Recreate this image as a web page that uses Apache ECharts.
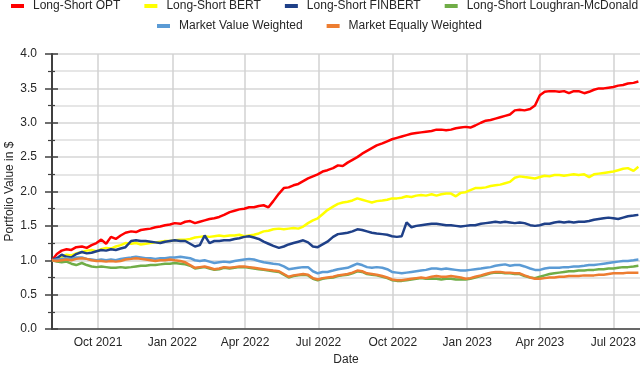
<!DOCTYPE html>
<html>
<head>
<meta charset="utf-8">
<script src="https://cdn.jsdelivr.net/npm/echarts@6/dist/echarts.min.js"></script>
<style>html,body{margin:0;padding:0;background:#fff;}#c{width:640px;height:371px;}</style>
</head>
<body>
<div id="c"></div>
<script>
const dates = ['2021-08-05','2021-08-11','2021-08-17','2021-08-23','2021-08-29','2021-09-04','2021-09-11','2021-09-17','2021-09-23','2021-09-29',
'2021-10-05','2021-10-11','2021-10-17','2021-10-23','2021-10-29','2021-11-04','2021-11-11','2021-11-17','2021-11-23','2021-11-29',
'2021-12-05','2021-12-11','2021-12-17','2021-12-23','2021-12-29','2022-01-04','2022-01-11','2022-01-17','2022-01-23','2022-01-29',
'2022-02-04','2022-02-10','2022-02-16','2022-02-22','2022-02-28','2022-03-06','2022-03-13','2022-03-19','2022-03-25','2022-03-31',
'2022-04-06','2022-04-12','2022-04-18','2022-04-24','2022-04-30','2022-05-06','2022-05-13','2022-05-19','2022-05-25','2022-05-31',
'2022-06-06','2022-06-12','2022-06-18','2022-06-24','2022-06-30','2022-07-06','2022-07-12','2022-07-19','2022-07-25','2022-07-31',
'2022-08-06','2022-08-12','2022-08-18','2022-08-24','2022-08-30','2022-09-05','2022-09-11','2022-09-18','2022-09-24','2022-09-30',
'2022-10-06','2022-10-12','2022-10-18','2022-10-24','2022-10-30','2022-11-05','2022-11-11','2022-11-18','2022-11-24','2022-11-30',
'2022-12-06','2022-12-12','2022-12-18','2022-12-24','2022-12-30','2023-01-05','2023-01-11','2023-01-18','2023-01-24','2023-01-30',
'2023-02-05','2023-02-11','2023-02-17','2023-02-23','2023-03-01','2023-03-07','2023-03-13','2023-03-20','2023-03-26','2023-04-01',
'2023-04-07','2023-04-13','2023-04-19','2023-04-25','2023-05-01','2023-05-07','2023-05-13','2023-05-19','2023-05-26','2023-06-01',
'2023-06-07','2023-06-13','2023-06-19','2023-06-25','2023-07-01','2023-07-07','2023-07-13','2023-07-19','2023-07-26','2023-08-01'];

const longShortOPT = [1.00,1.09,1.14,1.16,1.15,1.19,1.20,1.18,1.22,1.25, 1.30,1.24,1.34,1.31,1.36,1.40,1.42,1.41,1.44,1.45,
1.46,1.48,1.49,1.51,1.52,1.54,1.53,1.56,1.57,1.54, 1.56,1.58,1.60,1.61,1.63,1.66,1.70,1.72,1.74,1.75,
1.77,1.77,1.79,1.80,1.77,1.86,1.97,2.05,2.06,2.09, 2.11,2.15,2.19,2.22,2.25,2.29,2.31,2.34,2.38,2.37,
2.42,2.46,2.50,2.55,2.59,2.63,2.67,2.70,2.73,2.76, 2.78,2.80,2.82,2.84,2.85,2.86,2.87,2.88,2.90,2.90,
2.89,2.90,2.92,2.93,2.94,2.93,2.96,3.00,3.03,3.04, 3.06,3.08,3.10,3.12,3.18,3.19,3.18,3.20,3.25,3.40,
3.45,3.46,3.46,3.45,3.46,3.43,3.46,3.46,3.43,3.45, 3.48,3.50,3.50,3.51,3.52,3.54,3.55,3.57,3.58,3.60];

const longShortBERT = [1.00,1.02,1.05,1.08,1.07,1.10,1.12,1.14,1.15,1.13, 1.16,1.18,1.17,1.20,1.22,1.25,1.24,1.25,1.23,1.24,
1.25,1.26,1.27,1.28,1.28,1.29,1.30,1.30,1.31,1.33, 1.34,1.35,1.34,1.35,1.36,1.35,1.36,1.36,1.37,1.35,
1.36,1.37,1.39,1.42,1.43,1.45,1.46,1.45,1.46,1.47, 1.46,1.49,1.54,1.58,1.61,1.67,1.73,1.78,1.82,1.84,
1.85,1.87,1.90,1.88,1.86,1.84,1.86,1.87,1.88,1.90, 1.90,1.91,1.93,1.92,1.94,1.95,1.94,1.96,1.94,1.96,
1.97,1.97,1.93,1.98,1.99,2.02,2.05,2.05,2.06,2.08, 2.09,2.10,2.12,2.14,2.20,2.22,2.21,2.20,2.19,2.21,
2.23,2.22,2.24,2.24,2.23,2.24,2.25,2.24,2.25,2.21, 2.25,2.26,2.27,2.28,2.29,2.31,2.33,2.34,2.30,2.36];

const longShortFINBERT = [1.00,1.03,1.08,1.05,1.04,1.09,1.12,1.10,1.11,1.13, 1.15,1.14,1.16,1.15,1.17,1.19,1.28,1.29,1.28,1.28,
1.27,1.26,1.25,1.27,1.28,1.29,1.28,1.28,1.24,1.20, 1.22,1.36,1.25,1.28,1.28,1.29,1.29,1.31,1.32,1.34,
1.35,1.33,1.31,1.27,1.24,1.21,1.18,1.20,1.23,1.25, 1.27,1.29,1.26,1.20,1.19,1.23,1.27,1.34,1.38,1.39,
1.40,1.42,1.45,1.44,1.42,1.40,1.39,1.38,1.37,1.35, 1.34,1.35,1.55,1.48,1.50,1.51,1.52,1.53,1.53,1.52,
1.51,1.51,1.50,1.49,1.50,1.51,1.51,1.53,1.54,1.55, 1.56,1.55,1.56,1.55,1.54,1.55,1.54,1.51,1.50,1.51,
1.53,1.53,1.55,1.56,1.55,1.56,1.55,1.56,1.56,1.57, 1.59,1.60,1.61,1.62,1.61,1.60,1.62,1.64,1.65,1.66];

const longShortLM = [1.00,0.98,0.97,0.98,0.95,0.93,0.96,0.93,0.91,0.90, 0.91,0.90,0.89,0.89,0.90,0.89,0.90,0.91,0.92,0.92,
0.93,0.93,0.94,0.95,0.95,0.96,0.95,0.94,0.92,0.88, 0.89,0.90,0.88,0.86,0.87,0.89,0.88,0.89,0.90,0.90,
0.89,0.88,0.87,0.86,0.85,0.84,0.83,0.79,0.75,0.77, 0.78,0.79,0.78,0.73,0.71,0.73,0.74,0.75,0.77,0.78,
0.79,0.81,0.84,0.83,0.80,0.79,0.78,0.76,0.74,0.71, 0.70,0.70,0.71,0.72,0.73,0.74,0.73,0.73,0.73,0.72,
0.73,0.73,0.72,0.72,0.72,0.73,0.75,0.77,0.79,0.81, 0.82,0.82,0.81,0.81,0.80,0.80,0.77,0.75,0.74,0.76,
0.78,0.80,0.81,0.82,0.83,0.84,0.84,0.85,0.85,0.86, 0.86,0.87,0.87,0.88,0.88,0.89,0.90,0.90,0.91,0.92];

const marketValueWeighted = [1.00,1.01,1.02,1.03,1.02,1.04,1.04,1.02,1.01,1.00, 1.01,1.00,1.01,1.00,1.02,1.03,1.04,1.05,1.04,1.03,
1.03,1.02,1.03,1.03,1.04,1.04,1.05,1.04,1.03,1.00, 0.99,1.00,0.98,0.96,0.97,0.98,0.97,0.99,1.00,1.01,
1.02,1.01,0.99,0.97,0.96,0.95,0.94,0.91,0.87,0.88, 0.89,0.90,0.90,0.84,0.81,0.83,0.83,0.85,0.87,0.88,
0.89,0.92,0.95,0.93,0.90,0.89,0.90,0.89,0.87,0.83, 0.82,0.81,0.82,0.83,0.84,0.85,0.86,0.88,0.88,0.87,
0.88,0.87,0.86,0.85,0.85,0.86,0.87,0.88,0.89,0.90, 0.92,0.93,0.94,0.92,0.93,0.93,0.91,0.88,0.86,0.86,
0.88,0.89,0.89,0.89,0.90,0.90,0.91,0.91,0.92,0.93, 0.93,0.94,0.95,0.96,0.97,0.98,0.99,0.99,1.00,1.01];

const marketEquallyWeighted = [1.00,0.99,1.00,1.01,1.00,1.02,1.03,1.02,1.00,0.99, 0.99,0.98,0.99,0.98,0.99,1.01,1.02,1.03,1.02,1.01,
1.00,0.99,1.00,1.00,1.01,1.00,0.99,0.97,0.93,0.89, 0.90,0.91,0.89,0.87,0.88,0.90,0.89,0.90,0.91,0.91,
0.90,0.89,0.88,0.87,0.86,0.85,0.84,0.80,0.76,0.78, 0.79,0.80,0.79,0.74,0.72,0.74,0.75,0.76,0.78,0.79,
0.80,0.82,0.85,0.84,0.81,0.80,0.79,0.77,0.75,0.72, 0.71,0.71,0.72,0.73,0.74,0.75,0.74,0.76,0.77,0.76,
0.76,0.77,0.76,0.75,0.73,0.74,0.76,0.78,0.80,0.82, 0.83,0.83,0.82,0.82,0.81,0.81,0.78,0.75,0.73,0.73,
0.74,0.75,0.75,0.76,0.76,0.77,0.77,0.77,0.78,0.78, 0.78,0.79,0.79,0.80,0.81,0.81,0.81,0.82,0.82,0.82];

const seriesNames = ['Long-Short OPT','Long-Short BERT','Long-Short FINBERT','Long-Short Loughran-McDonald','Market Value Weighted','Market Equally Weighted'];
const seriesColors = ['#ff0000','#ffff00','#1f4088','#70ad47','#5b9bd5','#ed7d31'];
const seriesValues = [longShortOPT, longShortBERT, longShortFINBERT, longShortLM, marketValueWeighted, marketEquallyWeighted];

const quarterDates = ['2021-10-01','2022-01-01','2022-04-01','2022-07-01','2022-10-01','2023-01-01','2023-04-01','2023-07-01'];
const quarterLabels = ['Oct 2021','Jan 2022','Apr 2022','Jul 2022','Oct 2022','Jan 2023','Apr 2023','Jul 2023'];
const xRange = ['2021-08-05','2023-08-03'];
const yTicks = [0, 0.5, 1.0, 1.5, 2.0, 2.5, 3.0, 3.5, 4.0];

const toTime = s => echarts.number.parseDate(s).getTime();
const qTimes = quarterDates.map(toTime);
const FONT = "'Liberation Sans', Arial, sans-serif";
const TXT = '#262626';

const chart = echarts.init(document.getElementById('c'), null, {renderer: 'canvas'});

const series = seriesNames.map((n, i) => ({
  name: n,
  type: 'line',
  data: dates.map((d, j) => [toTime(d), seriesValues[i][j]]),
  showSymbol: false,
  symbol: 'none',
  color: seriesColors[i],
  lineStyle: {width: 2.5, color: seriesColors[i]},
  animation: false,
  z: 2 + i
}));

const legendBase = {
  orient: 'horizontal',
  icon: 'rect',
  itemWidth: 13,
  itemHeight: 4,
  itemGap: 24,
  padding: 0,
  textStyle: {fontFamily: FONT, fontSize: 12, color: TXT, padding: [0, 0, 0, 4]}
};

chart.setOption({
  backgroundColor: '#ffffff',
  animation: false,
  legend: [
    Object.assign({}, legendBase, {left: 11, top: 0, data: seriesNames.slice(0, 4)}),
    Object.assign({}, legendBase, {left: 157, top: 20, data: seriesNames.slice(4)})
  ],
  grid: {left: 52, right: 0, top: 54, bottom: 42, containLabel: false, outerBoundsMode: 'none'},
  xAxis: {
    type: 'value',
    min: toTime(xRange[0]),
    max: toTime(xRange[1]),
    name: 'Date',
    nameLocation: 'middle',
    nameGap: 25,
    nameMoveOverlap: false,
    nameTextStyle: {fontFamily: FONT, fontSize: 12, color: TXT},
    axisLine: {show: true, lineStyle: {color: '#404040', width: 1.5}},
    axisTick: {show: false, customValues: qTimes},
    axisLabel: {
      customValues: qTimes,
      margin: 8,
      fontFamily: FONT, fontSize: 12, color: TXT,
      formatter: function (v) {
        for (let i = 0; i < qTimes.length; i++) {
          if (Math.abs(qTimes[i] - v) < 3600000 * 13) return quarterLabels[i];
        }
        return '';
      }
    },
    splitLine: {show: true, lineStyle: {color: '#d2d2d2', width: 1.5}}
  },
  yAxis: [{
    type: 'value',
    min: 0, max: 4, interval: 0.5,
    name: 'Portfolio Value in $',
    nameLocation: 'middle',
    nameGap: 36,
    nameMoveOverlap: false,
    nameTextStyle: {fontFamily: FONT, fontSize: 12, color: TXT},
    axisLine: {show: true, lineStyle: {color: '#404040', width: 2}},
    axisTick: {show: true, inside: false, length: 7, lineStyle: {color: '#404040', width: 1.5}},
    minorTick: {show: true, splitNumber: 2, length: 4, lineStyle: {color: '#404040', width: 1.2}},
    axisLabel: {margin: 15, fontFamily: FONT, fontSize: 12, color: TXT,
      formatter: v => (yTicks.indexOf(v) >= 0 ? v.toFixed(1) : '')},
    splitLine: {show: true, lineStyle: {color: '#d6d6d6', width: 1.5}},
    minorSplitLine: {show: true, lineStyle: {color: '#dedede', width: 1.5}}
  }, {
    type: 'value',
    position: 'left',
    offset: 0,
    min: 0, max: 4, interval: 0.5,
    axisLine: {show: false},
    axisTick: {show: true, inside: true, length: 6, lineStyle: {color: '#404040', width: 1.5}},
    minorTick: {show: true, splitNumber: 2, length: 3, lineStyle: {color: '#404040', width: 1.2}},
    axisLabel: {show: false},
    splitLine: {show: false}
  }],
  series: series
});
</script>
</body>
</html>
